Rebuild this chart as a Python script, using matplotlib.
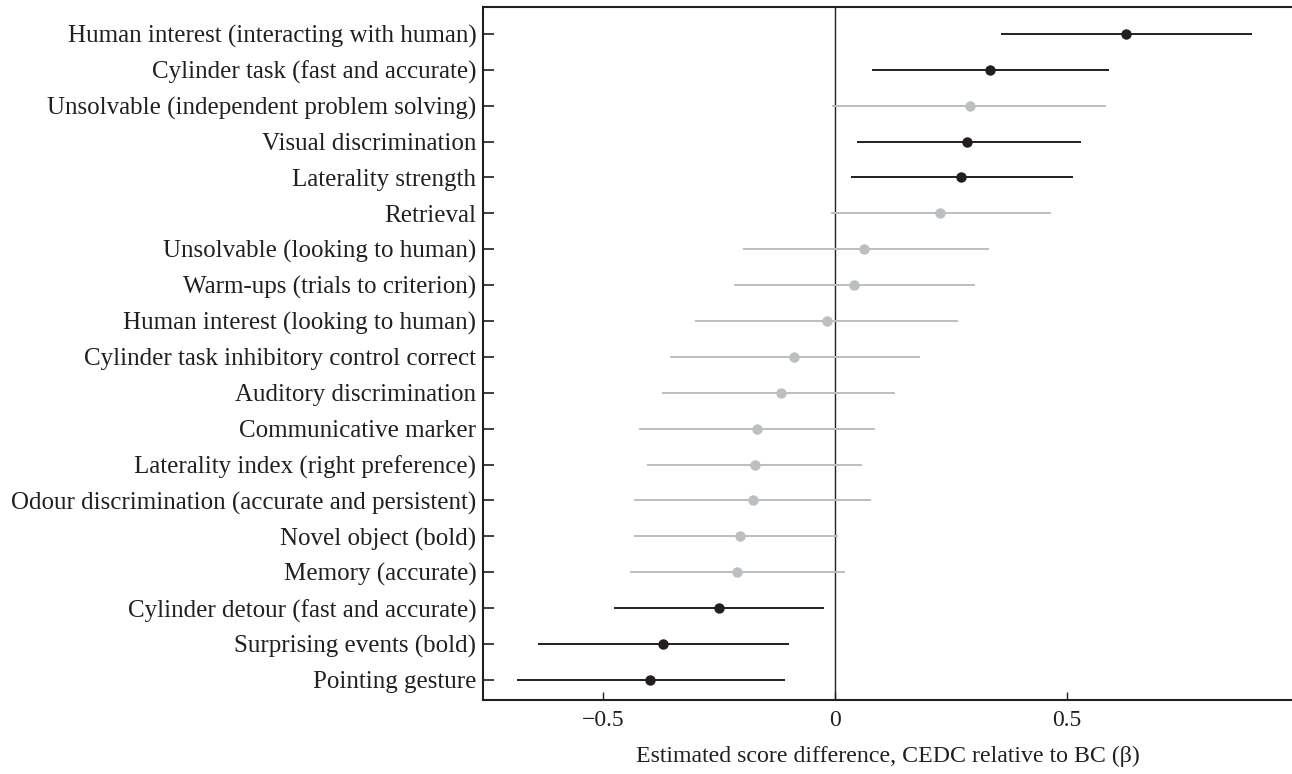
import matplotlib
matplotlib.use("Agg")
import matplotlib.pyplot as plt

labels = [
    "Human interest (interacting with human)",
    "Cylinder task (fast and accurate)",
    "Unsolvable (independent problem solving)",
    "Visual discrimination",
    "Laterality strength",
    "Retrieval",
    "Unsolvable (looking to human)",
    "Warm-ups (trials to criterion)",
    "Human interest (looking to human)",
    "Cylinder task inhibitory control correct",
    "Auditory discrimination",
    "Communicative marker",
    "Laterality index (right preference)",
    "Odour discrimination (accurate and persistent)",
    "Novel object (bold)",
    "Memory (accurate)",
    "Cylinder detour (fast and accurate)",
    "Surprising events (bold)",
    "Pointing gesture",
]
estimate = [0.627, 0.334, 0.291, 0.285, 0.271, 0.227, 0.063, 0.040, -0.017, -0.088,
            -0.116, -0.168, -0.173, -0.178, -0.206, -0.212, -0.251, -0.371, -0.399]
ci_low = [0.357, 0.079, -0.006, 0.046, 0.035, -0.010, -0.199, -0.219, -0.302, -0.357,
          -0.373, -0.423, -0.406, -0.433, -0.433, -0.443, -0.477, -0.640, -0.686]
ci_high = [0.899, 0.590, 0.584, 0.531, 0.512, 0.465, 0.332, 0.302, 0.265, 0.183,
           0.130, 0.086, 0.058, 0.077, 0.007, 0.021, -0.024, -0.100, -0.109]
significant = [True, True, False, True, True, False, False, False, False, False,
               False, False, False, False, False, False, True, True, True]
xticks = [-0.5, 0, 0.5]
xticklabels = ["\u22120.5", "0", "0.5"]
xlabel = "Estimated score difference, CEDC relative to BC (\u03b2)"

plt.rcParams["font.family"] = ["Liberation Serif", "DejaVu Serif"]

fig = plt.figure(figsize=(12.92, 7.74), dpi=100)
ax = fig.add_axes([0.374, 0.0956, 0.626, 0.8954])

dark = "#231f20"
light = "#bcbec0"
n = len(labels)
ys = [n - 1 - i for i in range(n)]

ax.axvline(0, color=dark, lw=1.0, zorder=1)
for y, est, lo, hi, sig in zip(ys, estimate, ci_low, ci_high, significant):
    c = dark if sig else light
    ax.plot([lo, hi], [y, y], color=c, lw=1.4, solid_capstyle="butt", zorder=2)
    ax.plot([est], [y], "o", color=c, ms=7.5, mec="none", zorder=3)

ax.set_xlim(-0.759, 0.985)
ax.set_ylim(-0.56, n - 1 + 0.75)
ax.set_yticks(ys)
ax.set_yticklabels(labels, fontsize=18, color=dark)
ax.set_xticks(xticks)
ax.set_xticklabels(xticklabels, fontsize=17, color=dark)
ax.tick_params(axis="y", direction="in", length=8, width=1.2, pad=5, color=dark)
ax.tick_params(axis="x", direction="in", length=6, width=1.0, pad=7, color=dark)
ax.set_xlabel(xlabel, fontsize=17.2, color=dark, labelpad=11)

for side in ["left", "top", "bottom"]:
    ax.spines[side].set_color(dark)
    ax.spines[side].set_linewidth(1.5)
ax.spines["right"].set_visible(False)

fig.savefig("out.png", dpi=100)
